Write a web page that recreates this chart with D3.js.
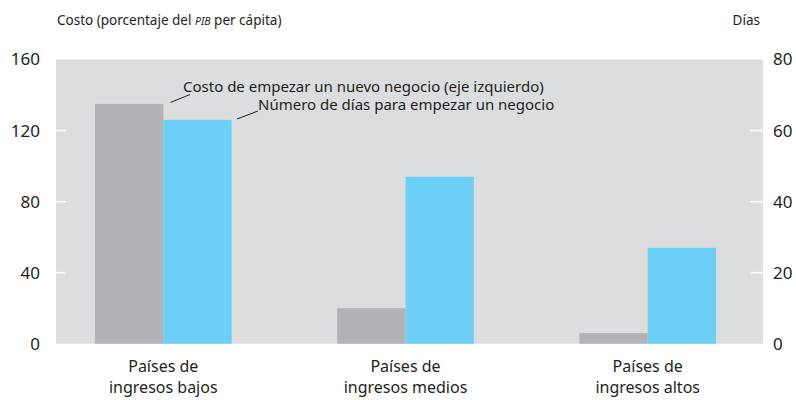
<!DOCTYPE html>
<html>
<head>
<meta charset="utf-8">
<script src="https://cdn.jsdelivr.net/npm/d3@7"></script>
<style>
  body { margin: 0; background: #fff; }
  text { font-family: "Noto Sans", sans-serif; fill: #231f20; }
</style>
</head>
<body>
<script>
var categories = [["Países de", "ingresos bajos"], ["Países de", "ingresos medios"], ["Países de", "ingresos altos"]];
var costValues = [135, 20, 6];      // % del PIB per cápita (eje izquierdo)
var dayValues = [63, 47, 27];       // días (eje derecho)
var leftTicks = [0, 40, 80, 120, 160];
var rightTicks = [0, 20, 40, 60, 80];

var W = 796, H = 400;
var plotL = 56, plotR = 763, plotT = 59.5, plotB = 343.7;

var svg = d3.select("body").append("svg").attr("width", W).attr("height", H);

var x = d3.scaleBand().domain(d3.range(categories.length))
  .range([plotL, plotR - 8]).paddingInner(0.436).paddingOuter(0.161);
var xSub = d3.scaleBand().domain(["cost", "days"]).range([0, x.bandwidth()]);
var yL = d3.scaleLinear().domain([0, 160]).range([plotB, plotT]);
var yR = d3.scaleLinear().domain([0, 80]).range([plotB, plotT]);

// panel
svg.append("rect").attr("x", plotL).attr("y", plotT)
  .attr("width", plotR - plotL).attr("height", plotB - plotT).attr("fill", "#dcdddf");

// bars
svg.selectAll("rect.cost").data(costValues).enter().append("rect")
  .attr("class", "cost")
  .attr("x", function (d, i) { return x(i) + xSub("cost"); })
  .attr("width", xSub.bandwidth())
  .attr("y", function (d) { return yL(d); })
  .attr("height", function (d) { return plotB - yL(d); })
  .attr("fill", "#b2b3b7");

svg.selectAll("rect.days").data(dayValues).enter().append("rect")
  .attr("class", "days")
  .attr("x", function (d, i) { return x(i) + xSub("days"); })
  .attr("width", xSub.bandwidth())
  .attr("y", function (d) { return yR(d); })
  .attr("height", function (d) { return plotB - yR(d); })
  .attr("fill", "#6bcff6");

// tick marks (white, inside panel)
svg.selectAll("line.lt").data(leftTicks.filter(function (d) { return d > 0 && d < 160; }))
  .enter().append("line").attr("class", "lt")
  .attr("x1", plotL).attr("x2", plotL + 10)
  .attr("y1", function (d) { return yL(d); }).attr("y2", function (d) { return yL(d); })
  .attr("stroke", "#fff").attr("stroke-width", 1.5);

svg.selectAll("line.rt").data(rightTicks.filter(function (d) { return d > 0 && d < 80; }))
  .enter().append("line").attr("class", "rt")
  .attr("x1", plotR - 13).attr("x2", plotR)
  .attr("y1", function (d) { return yR(d); }).attr("y2", function (d) { return yR(d); })
  .attr("stroke", "#fff").attr("stroke-width", 1.5);

// tick labels
svg.selectAll("text.ll").data(leftTicks).enter().append("text")
  .attr("class", "ll")
  .attr("x", 40).attr("y", function (d) { return yL(d); })
  .attr("dy", "0.35em").attr("text-anchor", "end")
  .attr("font-size", 17).text(function (d) { return d; });

svg.selectAll("text.rl").data(rightTicks).enter().append("text")
  .attr("class", "rl")
  .attr("x", 773).attr("y", function (d) { return yR(d); })
  .attr("dy", "0.35em").attr("text-anchor", "start")
  .attr("font-size", 17).text(function (d) { return d; });

// category labels
var cat = svg.selectAll("text.cat").data(categories).enter().append("text")
  .attr("class", "cat").attr("text-anchor", "middle").attr("font-size", 16);
cat.selectAll("tspan").data(function (d, i) { return d.map(function (t) { return { t: t, i: i }; }); })
  .enter().append("tspan")
  .attr("x", function (d) { return x(d.i) + x.bandwidth() / 2; })
  .attr("y", function (d, j) { return 372 + j * 21; })
  .text(function (d) { return d.t; });

// axis titles
var t1 = svg.append("text").attr("x", 57).attr("y", 25).attr("font-size", 13.5);
t1.append("tspan").text("Costo (porcentaje del ");
t1.append("tspan").attr("font-style", "italic").attr("font-size", 10.5).text("PIB");
t1.append("tspan").text(" per cápita)");
svg.append("text").attr("x", 760).attr("y", 25).attr("text-anchor", "end")
  .attr("font-size", 13.5).text("Días");

// series labels with leaders
svg.append("text").attr("x", 183).attr("y", 92).attr("font-size", 15)
  .text("Costo de empezar un nuevo negocio (eje izquierdo)");
svg.append("line").attr("x1", 170.5).attr("y1", 102.5).attr("x2", 190).attr("y2", 94.5)
  .attr("stroke", "#231f20").attr("stroke-width", 1);
svg.append("text").attr("x", 258).attr("y", 110).attr("font-size", 15)
  .text("Número de días para empezar un negocio");
svg.append("line").attr("x1", 237).attr("y1", 119).attr("x2", 258).attr("y2", 111)
  .attr("stroke", "#231f20").attr("stroke-width", 1);
</script>
</body>
</html>
